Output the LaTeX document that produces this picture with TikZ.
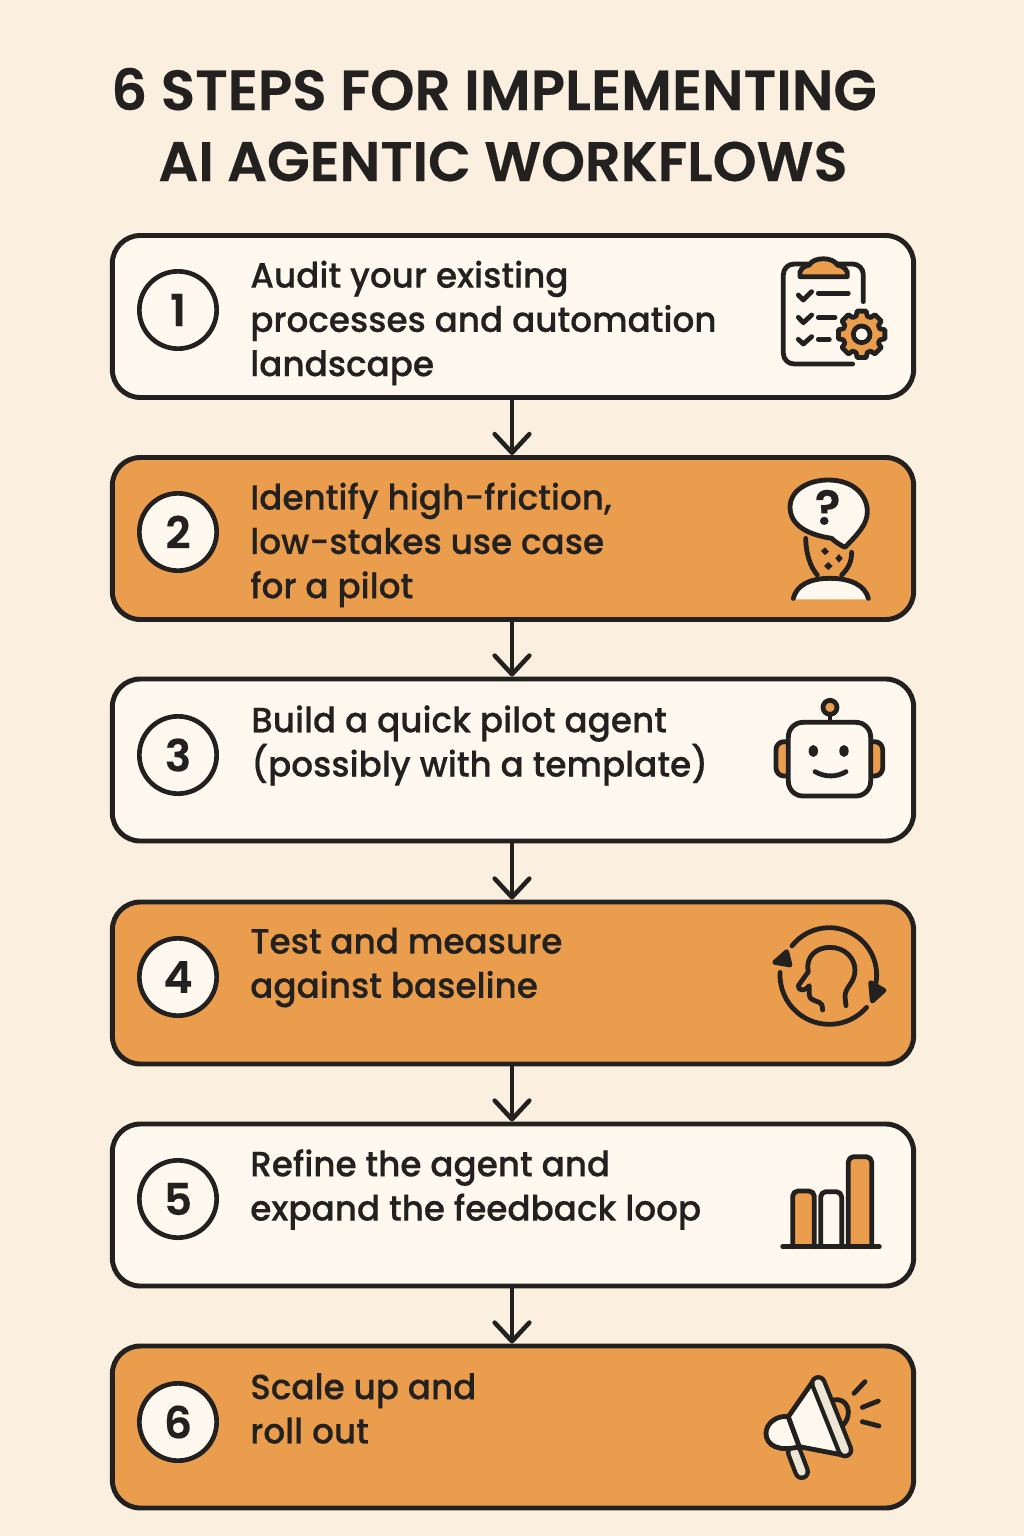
\documentclass[tikz,border=0pt]{standalone}
\usepackage{fontspec}
\usetikzlibrary{arrows.meta}
\setmainfont[FakeStretch=0.975,FakeBold=0.35]{Poppins Medium}
\newfontfamily\titlef[FakeBold=0.3]{Poppins SemiBold}
\definecolor{bgc}{HTML}{FBF0E0}
\definecolor{cardw}{HTML}{FEF8EE}
\definecolor{cardo}{HTML}{EB9D4E}
\definecolor{ink}{HTML}{22211F}
\definecolor{rimc}{HTML}{EDE6D4}
\tikzset{
  card/.style={draw=ink,line width=3.7pt,rounded corners=21pt,minimum width=601pt,minimum height=121.5pt,inner sep=0pt},
  whitecard/.style={card,fill=cardw},
  orangecard/.style={card,fill=cardo},
  numc/.style={circle,draw=ink,fill=cardw,line width=3.5pt,minimum size=58pt,inner sep=0pt,font=\fontsize{33}{33}\selectfont\titlef,text=ink},
  steptxt/.style={anchor=west,inner sep=0pt,align=left,text=ink,font=\fontsize{26.3}{33.2}\selectfont},
  titletxt/.style={inner sep=0pt,text=ink,font=\fontsize{42}{42}\selectfont\titlef},
  flow/.style={draw=ink,line width=3.4pt,-{Straight Barb[width=26pt,length=14pt,line width=3.4pt,round]}},
  icn/.style={draw=ink,line width=3.6pt,line cap=round,line join=round},
  iz/.style={scale=0.3333},
}
\begin{document}
\begin{tikzpicture}[x=0.75pt,y=-0.75pt]
\useasboundingbox (0,0) rectangle (1024,1536);
\fill[bgc] (0,0) rectangle (1024,1536);

\node[titletxt,anchor=base,font=\fontsize{42.4}{42}\selectfont\titlef] (t1) at (494,110) {6 STEPS FOR IMPLEMENTING};
\node[titletxt,anchor=base,font=\fontsize{41.8}{42}\selectfont\titlef] (t2) at (503,181) {AI AGENTIC WORKFLOWS};

\node[whitecard]  (c1) at (513,316.5) {};
\node[orangecard] (c2) at (513,538.5) {};
\node[whitecard]  (c3) at (513,760) {};
\node[orangecard] (c4) at (513,983) {};
\node[whitecard]  (c5) at (513,1205) {};
\node[orangecard] (c6) at (513,1427) {};

\foreach \a/\b in {c1/c2,c2/c3,c3/c4,c4/c5,c5/c6}
  \draw[flow] (\a.south -| 512,0) -- (\b.north -| 512,0);

\node[numc] (n1) at (178,310) {1};
\node[numc] (n2) at (178,532) {2};
\node[numc] (n3) at (178,755) {3};
\node[numc] (n4) at (178,977) {4};
\node[numc] (n5) at (178,1199) {5};
\node[numc] (n6) at (178,1422) {6};

\node[steptxt] (s1) at (250,323) {Audit your existing\\processes and automation\\landscape};
\node[steptxt] (s2) at (250,545) {Identify high-friction,\\low-stakes use case\\for a pilot};
\node[steptxt] (s3) at (251,745.5) {Build a quick pilot agent\\(possibly with a template)};
\node[steptxt] (s4) at (250,967.5) {Test and measure\\against baseline};
\node[steptxt] (s5) at (250,1189.5) {Refine the agent and\\expand the feedback loop};
\node[steptxt] (s6) at (250,1408.5) {Scale up and\\roll out};

% icon 1: clipboard and gear
\begin{scope}[shift={(750,240)},iz]
  \draw[icn,rounded corners=8pt] (340,185) -- (340,72) -- (100,72) -- (100,372) -- (308,372);
  \draw[icn,fill=cardo] (150,110) .. controls (145,90) and (160,78) .. (178,75) .. controls (190,50) and (250,50) .. (262,75) .. controls (280,78) and (297,90) .. (292,110) -- cycle;
  \draw[icn] (145,165) -- (160,180) -- (185,155);
  \draw[icn] (145,232) -- (160,248) -- (185,225);
  \draw[icn] (145,298) -- (160,312) -- (185,290);
  \draw[icn] (205,160) -- (295,160);
  \draw[icn] (205,233) -- (255,233);
  \draw[icn] (205,298) -- (238,298);
  \begin{scope}[shift={(335,283)}]
    \draw[icn,fill=cardo] (-17:57) \foreach \a in {0,45,...,315}{ -- (\a-17:57) -- (\a-11:71) -- (\a+11:71) -- (\a+17:57)} -- cycle;
    \draw[icn,fill=cardw] (0,0) circle[radius=25];
  \end{scope}
\end{scope}

% icon 2: head and question bubble
\begin{scope}[shift={(760,470)},iz]
  \fill[cardw] (100,388) .. controls (110,345) and (150,325) .. (210,325) .. controls (270,325) and (315,345) .. (325,388) -- cycle;
  \draw[icn] (100,385) .. controls (110,345) and (150,325) .. (210,325) .. controls (270,325) and (315,345) .. (325,385);
  \draw[icn] (137,205) .. controls (138,250) and (150,290) .. (172,315);
  \draw[icn] (275,247) .. controls (275,275) and (265,295) .. (245,315);
  \draw[icn,fill=cardw] (205,30) .. controls (280,30) and (322,75) .. (322,125) .. controls (322,165) and (290,195) .. (255,232) .. controls (240,225) and (225,215) .. (215,205) .. controls (150,195) and (90,170) .. (90,110) .. controls (90,65) and (140,30) .. (205,30) -- cycle;
  \node[inner sep=0pt,text=ink,font=\fontsize{36}{36}\selectfont\titlef] (q) at (203,112) {?};
  \fill[ink] (195,232) -- (207,245) -- (195,255) -- (183,243) -- cycle;
  \fill[ink] (237,252) -- (248,265) -- (237,278) -- (226,265) -- cycle;
  \fill[ink] (205,276) -- (218,288) -- (205,300) -- (192,288) -- cycle;
\end{scope}

% icon 3: robot
\begin{scope}[shift={(760,690)},iz]
  \draw[icn,fill=cardo,rounded corners=6pt] (85,155) -- (48,155) -- (48,258) -- (85,258);
  \draw[icn,fill=cardo,rounded corners=6pt] (332,155) -- (368,155) -- (368,258) -- (332,258);
  \draw[icn] (210,75) -- (210,97);
  \draw[icn,fill=cardo] (210,52) circle[radius=21];
  \draw[icn,fill=cardw,rounded corners=11pt] (85,97) rectangle (332,318);
  \fill[ink] (160,183) ellipse[x radius=14,y radius=18];
  \fill[ink] (252,183) ellipse[x radius=14,y radius=18];
  \draw[icn] (165,245) .. controls (195,262) and (230,262) .. (258,245);
\end{scope}

% icon 4: head in a cycle
\begin{scope}[shift={(760,915)},iz]
  \draw[icn] (208,180) ++(218:142) arc[start angle=218,end angle=382,radius=142];
  \draw[icn,fill=ink] (332,203) -- (372,226) -- (337,258) -- cycle;
  \draw[icn] (208,180) ++(41:148) arc[start angle=41,end angle=183,radius=148];
  \draw[icn,fill=ink] (80,110) -- (90,150) -- (44,142) -- cycle;
  \draw[icn] (188,285) -- (186,270) .. controls (180,255) and (150,262) .. (148,240) -- (148,212) .. controls (140,228) and (112,230) .. (115,212) -- (145,170) .. controls (135,125) and (170,97) .. (210,97) .. controls (255,97) and (285,130) .. (285,165) .. controls (285,205) and (255,215) .. (255,245) -- (258,272);
\end{scope}

% icon 5: bar chart
\begin{scope}[shift={(760,1140)},iz]
  \draw[icn,fill=cardo,rounded corners=4pt] (98,320) -- (98,153) -- (163,153) -- (163,320);
  \draw[icn,fill=cardw,rounded corners=4pt] (182,320) -- (182,155) -- (245,155) -- (245,320);
  \draw[icn,fill=cardo,rounded corners=4pt] (265,320) -- (265,50) -- (335,50) -- (335,320);
  \draw[icn] (68,320) -- (358,320);
\end{scope}

% icon 6: megaphone
\begin{scope}[shift={(750,1365)},iz]
  \draw[draw=ink,line width=12.5pt,line cap=round] (133,262) -- (155,320);
  \draw[draw=rimc,line width=6pt,line cap=round] (133,262) -- (155,320);
  \draw[icn] (250,105) .. controls (290,95) and (315,145) .. (275,185);
  \draw[icn,fill=cardw] (115,155) .. controls (80,150) and (48,175) .. (48,205) .. controls (48,240) and (85,262) .. (148,245) -- cycle;
  \draw[icn,fill=cardw] (188,50) -- (115,155) -- (148,245) -- (278,270) -- cycle;
  \draw[draw=ink,line width=12.5pt,line cap=round] (205,55) -- (285,255);
  \draw[draw=rimc,line width=6pt,line cap=round] (205,55) -- (285,255);
  \draw[icn] (312,85) -- (345,50);
  \draw[icn] (337,127) -- (385,108);
  \draw[icn] (337,170) -- (387,183);
\end{scope}
\end{tikzpicture}
\end{document}
